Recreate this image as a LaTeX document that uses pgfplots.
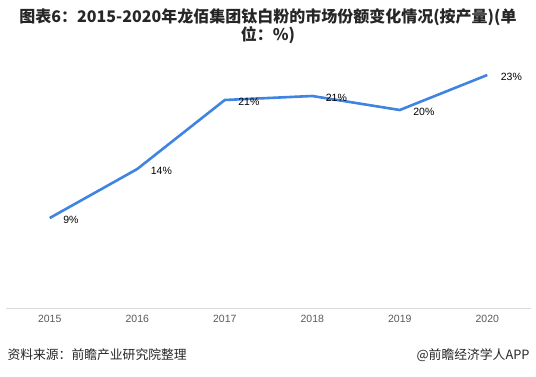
\documentclass[border=0pt]{standalone}
\usepackage{pgfplots}
\pgfplotsset{compat=1.18}
\usepackage{fontspec}
\setmainfont{Liberation Sans}
\newfontfamily\cjk{Noto Sans CJK SC}
\definecolor{linec}{HTML}{3F84E0}
\definecolor{tickc}{HTML}{595959}
\definecolor{axc}{HTML}{D9D9D9}
\definecolor{titlec}{HTML}{262626}
\begin{document}
\begin{tikzpicture}[x=1bp,y=1bp]
\useasboundingbox (0,0) rectangle (536,376);
\node[font=\cjk\bfseries\fontsize{16bp}{18bp}\selectfont, text=titlec, align=center] at (268,350) {图表6：2015-2020年龙佰集团钛白粉的市场份额变化情况(按产量)(单\\位：\%)};
\begin{axis}[
  at={(6bp,68bp)}, anchor=south west,
  scale only axis, width=525bp, height=250bp,
  xmin=-0.5, xmax=5.5, ymin=0, ymax=25,
  axis x line=bottom, axis y line=none,
  axis line style={axc, line width=0.8pt, -},
  xtick={0,1,2,3,4,5},
  xticklabels={2015,2016,2017,2018,2019,2020},
  major tick length=0pt,
  xticklabel style={font=\fontsize{10.5bp}{12bp}\selectfont, text=tickc, yshift=-4bp},
  clip=false,
]
\addplot[linec, line width=2.6bp, 
  nodes near coords, point meta=explicit symbolic,
  every node near coord/.style={anchor=west, xshift=9bp, yshift=-2bp, font=\fontsize{10.5bp}{12bp}\selectfont, text=black}]
  table[meta=lab] {
x y lab
0 9.0 9\%
1 13.9 14\%
2 20.8 21\%
3 21.2 21\%
4 19.8 20\%
5 23.3 23\%
};
\end{axis}
\node[font=\cjk\fontsize{12.8bp}{14bp}\selectfont, text=titlec, anchor=west] at (4,21) {资料来源：前瞻产业研究院整理};
\node[font=\cjk\fontsize{12.8bp}{14bp}\selectfont, text=titlec, anchor=east] at (533,21) {@前瞻经济学人APP};
\end{tikzpicture}
\end{document}
